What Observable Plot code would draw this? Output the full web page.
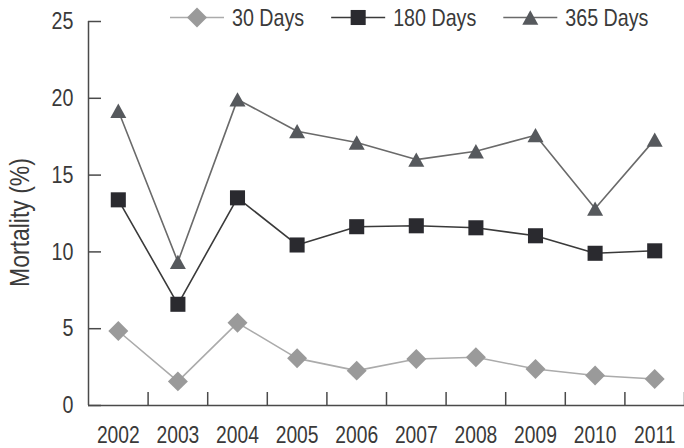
<!DOCTYPE html>
<html>
<head>
<meta charset="utf-8">
<script src="https://cdn.jsdelivr.net/npm/d3@7"></script>
<script src="https://cdn.jsdelivr.net/npm/@observablehq/plot@0.6"></script>
<style>
  body { margin: 0; background: #fff; }
  #wrap { position: relative; width: 684px; height: 448px; }
  #legend { position: absolute; left: 0; top: 0; }
</style>
</head>
<body>
<div id="wrap"><svg id="legend" width="684" height="40"></svg></div>
<script>
const years = [2002, 2003, 2004, 2005, 2006, 2007, 2008, 2009, 2010, 2011];
const days30 = [4.85, 1.57, 5.38, 3.07, 2.27, 3.03, 3.14, 2.38, 1.95, 1.73];
const days180 = [13.39, 6.59, 13.52, 10.45, 11.64, 11.70, 11.57, 11.05, 9.91, 10.07];
const days365 = [19.19, 9.35, 19.93, 17.86, 17.12, 16.01, 16.55, 17.60, 12.82, 17.31];
const seriesNames = ["30 Days", "180 Days", "365 Days"];
const yTicks = [0, 5, 10, 15, 20, 25];

const font = '"Liberation Sans", Arial, sans-serif';
const narrow = 0.82; // condensed look
const textColor = "#3a3a3a";

// Triangle centred on its bounding box (as in the original)
const triangleBox = {
  draw(context, size) {
    const r = Math.sqrt(size / Math.PI);
    context.moveTo(0, -0.9 * r);
    context.lineTo(r, 0.9 * r);
    context.lineTo(-r, 0.9 * r);
    context.closePath();
  }
};

const styles = [
  {values: days30, line: "#ababab", fill: "#9a9a9a", symbol: "diamond2", d3sym: d3.symbolDiamond2, r: 9},
  {values: days180, line: "#3a3a3a", fill: "#2a2a2f", symbol: "square", d3sym: d3.symbolSquare, r: 8.5},
  {values: days365, line: "#6a6a6a", fill: "#56595d", symbol: triangleBox, d3sym: triangleBox, r: 8}
];

const rows = [];
seriesNames.forEach((name, s) => {
  years.forEach((yr, i) => rows.push({series: name, year: yr, value: styles[s].values[i]}));
});

const xDomain = [years[0] - 0.5, years[years.length - 1] + 0.5];
const boundaries = years.map(y => y + 0.5);

const marks = [
  Plot.ruleY([0], {stroke: "#4a4a4a", strokeWidth: 1.5}),
  Plot.ruleX([xDomain[0]], {stroke: "#4a4a4a", strokeWidth: 1.5}),
  Plot.ruleY(yTicks, {x1: xDomain[0], x2: xDomain[0], insetRight: -13, stroke: "#4a4a4a", strokeWidth: 1.5}),
  Plot.ruleX(boundaries, {y1: 0, y2: 0, insetTop: -13, stroke: "#4a4a4a", strokeWidth: 1.5}),
  Plot.axisY({ticks: yTicks, tickSize: 0, tickPadding: 15, fontSize: 24, label: null, tickFormat: d => d, fill: textColor}),
  Plot.axisX({ticks: years, tickSize: 0, tickPadding: 20.5, fontSize: 23.5, label: null, tickFormat: d => String(d), fill: textColor}),
  Plot.text(["Mortality (%)"], {frameAnchor: "left", rotate: -90, dx: -68, dy: 9, fontSize: 28, fill: textColor, textAnchor: "middle", lineAnchor: "middle"})
];
seriesNames.forEach((name, s) => {
  const st = styles[s];
  const data = rows.filter(d => d.series === name);
  marks.push(Plot.line(data, {x: "year", y: "value", stroke: st.line, strokeWidth: 1.6}));
  marks.push(Plot.dot(data, {x: "year", y: "value", symbol: () => st.symbol, fill: st.fill, r: st.r, stroke: "none"}));
});

const chart = Plot.plot({
  width: 684,
  height: 448,
  marginLeft: 88,
  marginRight: 0,
  marginTop: 21,
  marginBottom: 43,
  style: {fontFamily: font, background: "#fff", color: textColor},
  x: {domain: xDomain, axis: null},
  y: {domain: [0, 25], axis: null},
  symbol: {type: "identity"},
  marks
});
const wrap = document.getElementById("wrap");
wrap.insertBefore(chart, wrap.firstChild);

// horizontally condense every text around its anchor (keeps Plot's y offsets)
chart.querySelectorAll("text").forEach(el => {
  const t = el.getAttribute("transform") || "";
  el.setAttribute("transform", `${t} scale(${narrow},1)`);
});

// legend
const legend = d3.select("#legend").style("font-family", font).style("font-size", "24px");
let lx = 170;
const ly = 17.5;
seriesNames.forEach((name, s) => {
  const st = styles[s];
  const g = legend.append("g");
  g.append("line").attr("x1", lx).attr("x2", lx + 54).attr("y1", ly).attr("y2", ly).attr("stroke", st.line).attr("stroke-width", 1.6);
  g.append("path").attr("transform", `translate(${lx + 27},${ly})`)
    .attr("d", d3.symbol().type(st.d3sym).size(Math.PI * st.r * st.r)()).attr("fill", st.fill);
  const tx = lx + 62;
  const t = g.append("text").attr("fill", textColor).attr("transform", `translate(${tx},${ly + 8.5}) scale(${narrow},1)`).text(name);
  const w = t.node().getComputedTextLength() * narrow;
  lx = tx + w + 27;
});
</script>
</body>
</html>
